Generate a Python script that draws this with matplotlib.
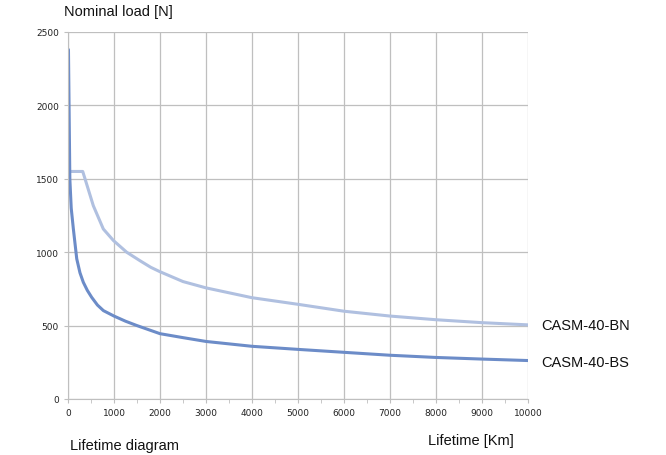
import matplotlib
matplotlib.use("Agg")
import matplotlib.pyplot as plt
from matplotlib.ticker import MultipleLocator

bs_x = [10, 40, 70, 116, 190, 260, 333, 420, 514, 640, 770, 1000, 1250, 1500, 2000, 2500, 3000, 4000, 5000, 6000, 7000, 8000, 9000, 10000]
bs_y = [2380, 1500, 1300, 1160, 955, 860, 795, 740, 693, 640, 602, 565, 530, 500, 445, 418, 392, 359, 338, 318, 298, 283, 272, 262]
bn_x = [10, 320, 370, 550, 768, 986, 1275, 1565, 1800, 2000, 2500, 3000, 4000, 5000, 6000, 7000, 8000, 9000, 10000]
bn_y = [1550, 1550, 1500, 1317, 1158, 1080, 1000, 942, 897, 867, 800, 757, 690, 645, 598, 565, 540, 520, 505]

xticks = [0, 1000, 2000, 3000, 4000, 5000, 6000, 7000, 8000, 9000, 10000]
yticks = [0, 500, 1000, 1500, 2000, 2500]

fig = plt.figure(figsize=(6.66, 4.56), dpi=100)
ax = fig.add_axes([68/666, 1-400/456, 460/666, 367/456])
ax.plot(bn_x, bn_y, color="#b0c0e0", lw=2.2, solid_capstyle="round", solid_joinstyle="round")
ax.plot(bs_x, bs_y, color="#6c8cc8", lw=2.2, solid_capstyle="round", solid_joinstyle="round")
ax.set_xlim(0, 10000)
ax.set_ylim(0, 2500)
ax.set_xticks(xticks)
ax.set_yticks(yticks)
ax.xaxis.set_minor_locator(MultipleLocator(500))
ax.grid(True, which="major", color="#bfbfbf", lw=0.9)
for s in ["top", "right"]:
    ax.spines[s].set_visible(False)
for s in ["left", "bottom"]:
    ax.spines[s].set_color("#bfbfbf")
ax.tick_params(axis="both", which="both", colors="#bfbfbf", labelcolor="#222222", labelsize=6.5, length=3)
ax.set_axisbelow(True)

fnt = "Liberation Sans"
fig.text(64/666, 1-12/456, "Nominal load [N]", fontsize=10.5, family=fnt, va="center", ha="left", color="#111111")
fig.text(70/666, 1-446/456, "Lifetime diagram", fontsize=10.5, family=fnt, va="center", ha="left", color="#111111")
fig.text(428/666, 1-441/456, "Lifetime [Km]", fontsize=10.5, family=fnt, va="center", ha="left", color="#111111")
fig.text(541/666, 1-326/456, "CASM-40-BN", fontsize=10.5, family=fnt, va="center", ha="left", color="#111111")
fig.text(541/666, 1-363/456, "CASM-40-BS", fontsize=10.5, family=fnt, va="center", ha="left", color="#111111")

fig.savefig("out.png", dpi=100)
